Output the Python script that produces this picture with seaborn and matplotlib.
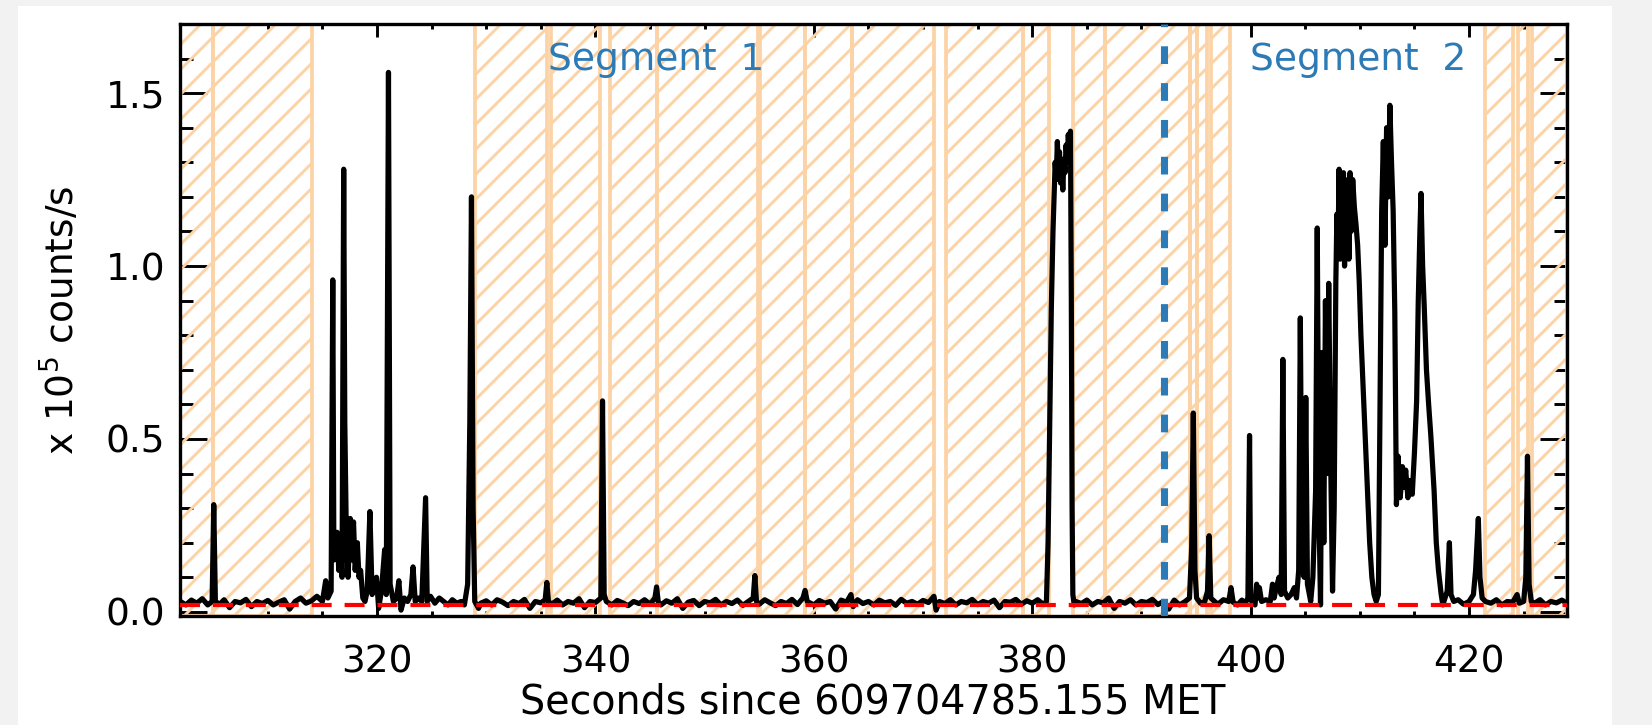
import numpy as np
import pandas as pd
import seaborn as sns
import matplotlib.pyplot as plt
from matplotlib.patches import Rectangle
from matplotlib.ticker import MultipleLocator

# light curve (time in s, rate in 1e5 counts/s)
t_pre = [302.0, 302.5, 303.0, 303.5, 304.0, 304.5, 304.9, 305.05, 305.2, 305.6, 306.0, 306.5,
         307.0, 307.5, 308.0, 308.5, 309.0, 309.5, 310.0, 310.5, 311.0, 311.5, 312.0, 312.5,
         313.0, 313.5, 314.0, 314.5]
r_pre = [0.03, 0.02, 0.034, 0.025, 0.038, 0.02, 0.03, 0.31, 0.03, 0.022, 0.035, 0.012,
         0.03, 0.026, 0.036, 0.015, 0.03, 0.024, 0.033, 0.02, 0.028, 0.035, 0.008, 0.03,
         0.04, 0.025, 0.032, 0.045]

t_burst1 = [315.0, 315.3, 315.5, 315.8, 315.95, 316.05, 316.2, 316.35, 316.5, 316.65, 316.8, 316.95,
            317.05, 317.2, 317.35, 317.55, 317.7, 317.85, 318.0, 318.2, 318.35, 318.5, 318.7, 318.9,
            319.1, 319.35, 319.55, 319.75, 319.95, 320.15, 320.4, 320.7, 320.85, 321.05, 321.2, 321.5,
            321.8, 322.0, 322.2, 322.5, 322.8, 323.1, 323.3, 323.5, 323.8, 324.1, 324.45, 324.6,
            324.9, 325.3, 325.7, 326.1, 326.5, 326.9, 327.3, 327.7, 328.0, 328.3, 328.5, 328.65,
            328.8, 328.95, 329.3]
r_burst1 = [0.03, 0.09, 0.04, 0.06, 0.96, 0.15, 0.2, 0.23, 0.12, 0.2, 0.1, 1.28,
            0.55, 0.2, 0.1, 0.27, 0.15, 0.26, 0.12, 0.2, 0.1, 0.12, 0.04, 0.03,
            0.06, 0.29, 0.05, 0.08, 0.1, 0.01, 0.06, 0.18, 0.05, 1.56, 0.08, 0.03,
            0.04, 0.09, 0.005, 0.04, 0.03, 0.05, 0.13, 0.03, 0.04, 0.03, 0.33, 0.03,
            0.045, 0.025, 0.04, 0.03, 0.02, 0.035, 0.025, 0.03, 0.02, 0.08, 0.55, 1.2,
            0.3, 0.03, 0.01]

t_mid = [329.5, 330.0, 330.5, 331.0, 331.5, 332.0, 332.5, 333.0, 333.5, 334.0, 334.5, 335.0,
         335.4, 335.55, 335.7, 336.0, 336.5, 337.0, 337.5, 338.0, 338.5, 339.0, 339.5, 340.0,
         340.5, 340.65, 340.8, 341.0, 341.5, 342.0, 342.5, 343.0, 343.5, 344.0, 344.5, 345.0,
         345.45, 345.6, 345.75, 346.0, 346.5, 347.0, 347.5, 348.0, 348.5, 349.0, 349.5, 350.0,
         350.5, 351.0, 351.5, 352.0, 352.5, 353.0, 353.5, 354.0, 354.45, 354.6, 354.75, 355.0,
         355.5, 356.0, 356.5, 357.0, 357.5, 358.0, 358.5, 359.0, 359.2, 359.4, 360.0, 360.5,
         361.0, 361.5, 362.0, 362.5, 363.0, 363.4, 363.6, 364.0, 364.5, 365.0, 365.5, 366.0,
         366.5, 367.0, 367.5, 368.0, 368.5, 369.0, 369.5, 370.0, 370.5, 371.0, 371.2, 371.5,
         372.0, 372.5, 373.0, 373.5, 374.0, 374.5, 375.0, 375.5, 376.0, 376.5, 377.0, 377.5,
         378.0, 378.5, 379.0, 379.5, 380.0, 380.5, 381.0]
r_mid = [0.025, 0.032, 0.02, 0.035, 0.028, 0.018, 0.03, 0.024, 0.036, 0.01, 0.03, 0.026,
         0.035, 0.085, 0.03, 0.022, 0.034, 0.02, 0.03, 0.025, 0.038, 0.012, 0.03, 0.027,
         0.04, 0.61, 0.05, 0.03, 0.02, 0.033, 0.026, 0.018, 0.03, 0.024, 0.035, 0.022,
         0.04, 0.072, 0.03, 0.02, 0.032, 0.025, 0.038, 0.01, 0.028, 0.033, 0.018, 0.03,
         0.026, 0.036, 0.02, 0.03, 0.024, 0.034, 0.019, 0.03, 0.04, 0.105, 0.03, 0.022,
         0.035, 0.026, 0.018, 0.03, 0.024, 0.036, 0.021, 0.04, 0.062, 0.03, 0.02, 0.033,
         0.025, 0.03, 0.008, 0.034, 0.028, 0.05, 0.015, 0.035, 0.024, 0.03, 0.02, 0.034,
         0.026, 0.03, 0.019, 0.036, 0.025, 0.03, 0.022, 0.033, 0.027, 0.045, 0.005, 0.03,
         0.024, 0.035, 0.02, 0.03, 0.026, 0.036, 0.021, 0.03, 0.025, 0.034, 0.012, 0.03,
         0.028, 0.036, 0.022, 0.032, 0.025, 0.035, 0.022]

t_flare1 = [381.3, 381.45, 381.6, 381.75, 381.9, 382.0, 382.1, 382.2, 382.3, 382.4, 382.5, 382.6,
            382.7, 382.8, 382.9, 383.0, 383.1, 383.2, 383.3, 383.4, 383.5, 383.58, 383.65, 383.72,
            383.85]
r_flare1 = [0.03, 0.2, 0.55, 0.88, 1.1, 1.2, 1.3, 1.25, 1.36, 1.28, 1.33, 1.24,
            1.3, 1.22, 1.31, 1.27, 1.35, 1.3, 1.38, 1.33, 1.39, 0.9, 0.3, 0.05,
            0.02]

t_post = [384.0, 384.5, 385.0, 385.5, 386.0, 386.5, 387.0, 387.5, 388.0, 388.5, 389.0, 389.5,
          390.0, 390.5, 391.0, 391.5, 392.0, 392.5, 393.0, 393.5, 394.0, 394.4, 394.6, 394.75,
          394.9, 395.05, 395.4, 395.8, 396.05, 396.2, 396.35, 396.7, 397.0, 397.5, 398.0, 398.2,
          398.4, 398.8, 399.2, 399.5, 399.75, 399.9, 400.0]
r_post = [0.03, 0.024, 0.034, 0.02, 0.03, 0.026, 0.04, 0.01, 0.03, 0.025, 0.035, 0.02,
          0.03, 0.027, 0.036, 0.021, 0.03, 0.008, 0.034, 0.02, 0.03, 0.04, 0.185, 0.575,
          0.12, 0.04, 0.025, 0.03, 0.06, 0.22, 0.04, 0.03, 0.022, 0.035, 0.03, 0.07,
          0.028, 0.02, 0.034, 0.025, 0.04, 0.51, 0.04]

t_flare2 = [400.1, 400.4, 400.55, 400.7, 400.8, 401.0, 401.4, 401.8, 402.0, 402.15, 402.35, 402.6,
            402.8, 402.95, 403.1, 403.4, 403.7, 404.0, 404.2, 404.4, 404.55, 404.7, 404.9, 405.05,
            405.2, 405.5, 405.7, 405.95, 406.1, 406.25, 406.4, 406.55, 406.7, 406.85, 407.0, 407.15,
            407.3, 407.5, 407.65, 407.8, 407.9, 408.0, 408.1, 408.2, 408.3, 408.4, 408.5, 408.6,
            408.7, 408.8, 408.9, 409.0, 409.1, 409.2, 409.35, 409.5, 409.65, 409.8, 409.95, 410.1,
            410.3, 410.5, 410.7, 410.9, 411.1, 411.3, 411.5, 411.7, 411.85, 412.0, 412.15, 412.3,
            412.45, 412.6, 412.75, 412.9, 413.05, 413.2, 413.35, 413.5, 413.7, 413.9, 414.05, 414.2,
            414.4, 414.6, 414.8, 415.0, 415.2, 415.35, 415.5, 415.6, 415.75, 415.9, 416.1, 416.3,
            416.5, 416.8, 417.0, 417.2, 417.45, 417.6, 417.8, 418.0, 418.2, 418.35, 418.6]
r_flare2 = [0.03, 0.02, 0.08, 0.04, 0.07, 0.03, 0.035, 0.03, 0.08, 0.04, 0.07, 0.10,
            0.05, 0.73, 0.06, 0.04, 0.05, 0.07, 0.04, 0.12, 0.85, 0.15, 0.10, 0.62,
            0.08, 0.03, 0.10, 0.35, 1.11, 0.3, 0.02, 0.75, 0.2, 0.9, 0.4, 0.95,
            0.5, 0.06, 0.3, 0.95, 1.15, 1.05, 1.28, 1.02, 1.26, 1.08, 1.27, 1.0,
            1.22, 1.05, 1.25, 1.02, 1.27, 1.1, 1.25, 1.17, 1.12, 1.06, 0.95, 0.8,
            0.65, 0.5, 0.35, 0.2, 0.1, 0.05, 0.03, 0.05, 0.6, 1.16, 1.36, 1.06,
            1.4, 1.2, 1.465, 1.3, 1.16, 0.87, 0.31, 0.45, 0.33, 0.42, 0.36, 0.41,
            0.33, 0.38, 0.34, 0.46, 0.61, 0.9, 1.1, 1.21, 1.0, 0.88, 0.7, 0.6,
            0.51, 0.35, 0.2, 0.12, 0.05, 0.02, 0.04, 0.06, 0.2, 0.05, 0.03]

t_tail = [419.0, 419.5, 420.0, 420.4, 420.6, 420.85, 421.0, 421.2, 421.5, 422.0, 422.5, 423.0,
          423.5, 424.0, 424.4, 424.6, 425.0, 425.2, 425.35, 425.5, 425.7, 426.0, 426.5, 427.0,
          427.5, 428.0, 428.5, 429.0]
r_tail = [0.035, 0.022, 0.03, 0.05, 0.12, 0.27, 0.1, 0.04, 0.03, 0.025, 0.035, 0.02,
          0.03, 0.028, 0.05, 0.025, 0.03, 0.1, 0.45, 0.08, 0.03, 0.025, 0.035, 0.02,
          0.03, 0.026, 0.034, 0.024]

# hatched (excluded) intervals
span_start = [301.96, 304.98, 328.97, 335.93, 341.34, 345.64, 355.07, 359.19, 363.50, 372.11,
              379.16, 383.74, 386.67, 394.45, 395.09, 396.37, 421.47, 424.49, 425.77]
span_end = [304.98, 314.05, 335.57, 340.42, 345.64, 354.89, 359.19, 363.50, 371.01, 379.16,
            381.54, 386.67, 394.45, 395.09, 396.01, 398.11, 424.03, 425.40, 428.97]

background_level = 0.02
segment_split = 392.07
segment_labels = ['Segment  1', 'Segment  2']
segment_label_x = [345.55, 409.8]

ORANGE = '#fcd3a6'
BLUE = '#2c7bb6'

sns.set_theme(style='ticks')
plt.rcParams['font.family'] = ['DejaVu Sans']
plt.rcParams['hatch.linewidth'] = 1.4
plt.rcParams['text.color'] = 'black'

fig = plt.figure(figsize=(1652 / 150, 725 / 150), dpi=150)
fig.patch.set_facecolor('#f2f2f2')
fig.patches.append(Rectangle((18 / 1652, 0), (1612 - 18) / 1652, (725 - 6) / 725,
                             transform=fig.transFigure, facecolor='white', edgecolor='none', zorder=-10))
ax = fig.add_axes([180 / 1652, 109 / 725, 1387 / 1652, 592 / 725])
ax.set_facecolor('white')

for a, b in zip(span_start, span_end):
    ax.axvspan(a, b, facecolor='none', edgecolor=ORANGE, hatch='//', linewidth=1.8, zorder=1)

df = pd.DataFrame({
    'time': np.concatenate([t_pre, t_burst1, t_mid, t_flare1, t_post, t_flare2, t_tail]),
    'rate': np.concatenate([r_pre, r_burst1, r_mid, r_flare1, r_post, r_flare2, r_tail]),
})
sns.lineplot(data=df, x='time', y='rate', color='black', linewidth=2.5, estimator=None, sort=False,
             ax=ax, zorder=3)

ax.axhline(background_level, color='red', linewidth=2.0, dashes=(4.8, 3.1), zorder=4)
ax.axvline(segment_split, color=BLUE, linewidth=3.4, dashes=(2.5, 2.7), zorder=5)

for lab, xx in zip(segment_labels, segment_label_x):
    ax.text(xx, 1.566, lab, color=BLUE, fontsize=18, ha='center', va='baseline', zorder=6)

ax.set_xlim(301.96, 428.97)
ax.set_ylim(-0.012, 1.70)
ax.xaxis.set_major_locator(MultipleLocator(20))
ax.xaxis.set_minor_locator(MultipleLocator(5))
ax.yaxis.set_major_locator(MultipleLocator(0.5))
ax.yaxis.set_minor_locator(MultipleLocator(0.1))
ax.yaxis.set_major_formatter(plt.FormatStrFormatter('%.1f'))

ax.tick_params(which='both', direction='in', top=True, right=True, color='black',
               labelcolor='black', width=1.4)
ax.tick_params(axis='x', which='major', length=6.2, pad=13.5, labelsize=18)
ax.tick_params(axis='x', which='minor', length=2.6)
ax.tick_params(axis='y', which='major', length=13, pad=7, labelsize=18)
ax.tick_params(axis='y', which='minor', length=6.3)
for sp in ax.spines.values():
    sp.set_linewidth(1.6)
    sp.set_color('black')

ax.set_xlabel('')
ax.set_ylabel('')
fig.text(873 / 1652, 11 / 725, 'Seconds since 609704785.155 MET', fontsize=19, color='black',
         ha='center', va='baseline')
fig.text(60 / 1652, 1 - 320 / 725, r'x 10$^5$ counts/s', fontsize=18, rotation=90, color='black',
         ha='center', va='center')

fig.savefig('out.png', dpi=150)
